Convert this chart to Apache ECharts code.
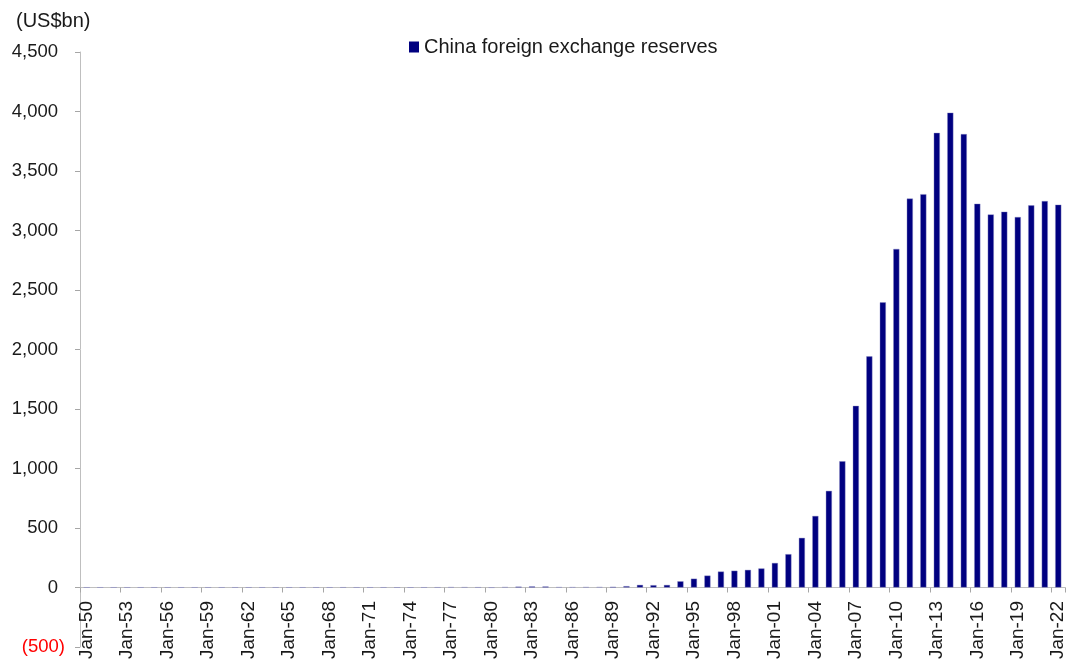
<!DOCTYPE html>
<html>
<head>
<meta charset="utf-8">
<script src="https://cdn.jsdelivr.net/npm/echarts@6/dist/echarts.min.js"></script>
<style>
html,body{margin:0;padding:0;background:#fff;}
#chart{width:1080px;height:668px;}
</style>
</head>
<body>
<div id="chart"></div>
<script>
const categories = [
  'Jan-50','Jan-51','Jan-52','Jan-53','Jan-54','Jan-55','Jan-56','Jan-57','Jan-58','Jan-59',
  'Jan-60','Jan-61','Jan-62','Jan-63','Jan-64','Jan-65','Jan-66','Jan-67','Jan-68','Jan-69',
  'Jan-70','Jan-71','Jan-72','Jan-73','Jan-74','Jan-75','Jan-76','Jan-77','Jan-78','Jan-79',
  'Jan-80','Jan-81','Jan-82','Jan-83','Jan-84','Jan-85','Jan-86','Jan-87','Jan-88','Jan-89',
  'Jan-90','Jan-91','Jan-92','Jan-93','Jan-94','Jan-95','Jan-96','Jan-97','Jan-98','Jan-99',
  'Jan-00','Jan-01','Jan-02','Jan-03','Jan-04','Jan-05','Jan-06','Jan-07','Jan-08','Jan-09',
  'Jan-10','Jan-11','Jan-12','Jan-13','Jan-14','Jan-15','Jan-16','Jan-17','Jan-18','Jan-19',
  'Jan-20','Jan-21','Jan-22'
];
const reserves = [
  0.2, 0.05, 0.1, 0.1, 0.1, 0.2, 0.1, 0.1, 0.1, 0.1,
  0.05, 0.1, 0.1, 0.1, 0.2, 0.1, 0.2, 0.2, 0.2, 0.5,
  0.1, 0.04, 0.2, -0.1, 0, 0.2, 0.6, 2.3, 1.6, 0.8,
  -1.3, 2.7, 7.0, 8.9, 8.2, 2.6, 2.1, 2.9, 3.4, 5.6,
  11.1, 21.7, 19.4, 21.2, 52, 74, 100, 134, 141, 148,
  160, 206, 280, 417, 601, 812, 1061, 1526, 1942, 2396,
  2845, 3268, 3305, 3820, 3990, 3810, 3225, 3135, 3158, 3113,
  3211, 3247, 3217
];
const seriesName = 'China foreign exchange reserves';
const unitLabel = '(US$bn)';

const chart = echarts.init(document.getElementById('chart'));
const font = 'Liberation Sans, Arial, sans-serif';
chart.setOption({
  animation: false,
  backgroundColor: '#ffffff',
  textStyle: { fontFamily: font },
  title: {
    text: unitLabel,
    left: 11, top: 6,
    textStyle: { fontFamily: font, fontSize: 20, fontWeight: 'normal', color: '#1a1a1a' }
  },
  legend: {
    data: [seriesName],
    left: 404, top: 32,
    icon: 'rect',
    itemWidth: 10, itemHeight: 11, itemGap: 6,
    itemStyle: { borderWidth: 0, color: '#000080' },
    textStyle: { fontFamily: font, fontSize: 20, color: '#1a1a1a' }
  },
  grid: {
    left: 80, right: 15, top: 52, bottom: 21,
    outerBoundsMode: 'none'
  },
  xAxis: {
    type: 'category',
    data: categories,
    boundaryGap: true,
    axisLine: { onZero: true, lineStyle: { color: '#bfbfbf', width: 1 } },
    axisTick: { show: true, interval: 2, length: 5, lineStyle: { color: '#a6a6a6' } },
    axisLabel: {
      interval: 2, rotate: 90, margin: -46,
      fontFamily: font, fontSize: 19, color: '#1a1a1a'
    },
    splitLine: { show: false }
  },
  yAxis: {
    type: 'value',
    min: -500, max: 4500, interval: 500,
    axisLine: { show: true, lineStyle: { color: '#bfbfbf', width: 1 } },
    axisTick: { show: true, length: 5, lineStyle: { color: '#a6a6a6' } },
    splitLine: { show: false },
    axisLabel: {
      margin: 15,
      fontFamily: font, fontSize: 18.5, color: '#1a1a1a',
      formatter: function (v) {
        if (v < 0) return '{neg|(' + Math.abs(v).toLocaleString('en-US') + ')}';
        return '{pos|' + v.toLocaleString('en-US') + '}';
      },
      rich: {
        neg: { color: '#ff0000', fontFamily: font, fontSize: 18.5 },
        pos: { color: '#1a1a1a', fontFamily: font, fontSize: 18.5, padding: [0, 7, 0, 0] }
      }
    }
  },
  series: [{
    name: seriesName,
    type: 'bar',
    data: reserves,
    barWidth: '45%',
    itemStyle: { color: '#000080', borderColor: '#8c8cc4', borderWidth: 0.4 }
  }]
});
</script>
</body>
</html>
